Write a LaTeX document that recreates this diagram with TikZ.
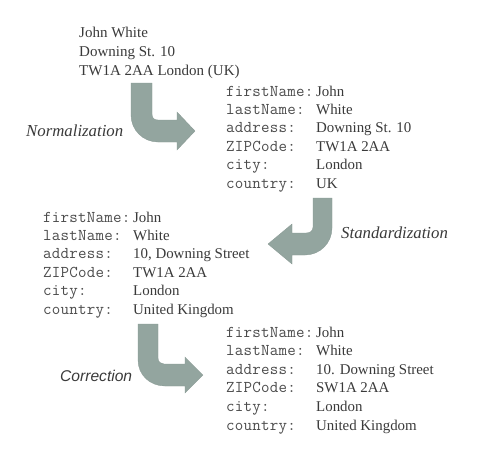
\documentclass[tikz,border=0pt]{standalone}
\usepackage{fontspec}
\setmainfont{Liberation Serif}
\setsansfont{Liberation Sans}
\newfontfamily\keyfont[LetterSpace=1.5]{Latin Modern Mono}
\definecolor{txt}{HTML}{3A3A3A}
\definecolor{keyc}{HTML}{4C4C4C}
\definecolor{arrowc}{HTML}{93A59F}
\newcommand{\kv}[2]{\makebox[90pt][l]{\fontsize{16.5pt}{18pt}\keyfont\color{keyc}#1}{\fontsize{14.9pt}{18pt}\selectfont #2}}
\tikzset{
  line/.style={anchor=base west, inner sep=0pt, text=txt, font=\fontsize{14.9pt}{18pt}\selectfont},
  addr/.style={line, font=\fontsize{15pt}{18pt}\selectfont},
  lbl/.style={anchor=base west, inner sep=0pt, text=txt, font=\fontsize{16.8pt}{18pt}\selectfont\itshape},
  lbls/.style={anchor=base west, inner sep=0pt, text=txt, font=\fontsize{15.6pt}{18pt}\sffamily\itshape},
  blockarrow/.style={fill=arrowc, draw=arrowc!92!black, line width=0.3pt}
}
\begin{document}
\begin{tikzpicture}[x=1pt,y=-1pt]
\useasboundingbox[fill=white] (0,0) rectangle (490,472);
% original address
\node[addr] (a1) at (79,37) {John White};
\node[addr] (a2) at (79,56) {Downing St. 10};
\node[addr] (a3) at (79,75) {TW1A 2AA London (UK)};
% block 1
\node[line] (b1a) at (226,96)    {\kv{firstName:}{John}};
\node[line] (b1b) at (226,114.4) {\kv{lastName:}{White}};
\node[line] (b1c) at (226,132.8) {\kv{address:}{Downing St. 10}};
\node[line] (b1d) at (226,151.2) {\kv{ZIPCode:}{TW1A 2AA}};
\node[line] (b1e) at (226,169.6) {\kv{city:}{London}};
\node[line] (b1f) at (226,188)   {\kv{country:}{UK}};
% block 2
\node[line] (b2a) at (43,222)    {\kv{firstName:}{John}};
\node[line] (b2b) at (43,240.4)  {\kv{lastName:}{White}};
\node[line] (b2c) at (43,258.8)  {\kv{address:}{10, Downing Street}};
\node[line] (b2d) at (43,277.2)  {\kv{ZIPCode:}{TW1A 2AA}};
\node[line] (b2e) at (43,295.6)  {\kv{city:}{London}};
\node[line] (b2f) at (43,314)    {\kv{country:}{United Kingdom}};
% block 3
\node[line] (b3a) at (226,337)   {\kv{firstName:}{John}};
\node[line] (b3b) at (226,355.6) {\kv{lastName:}{White}};
\node[line] (b3c) at (226,374.2) {\kv{address:}{10. Downing Street}};
\node[line] (b3d) at (226,392.8) {\kv{ZIPCode:}{SW1A 2AA}};
\node[line] (b3e) at (226,411.4) {\kv{city:}{London}};
\node[line] (b3f) at (226,430)   {\kv{country:}{United Kingdom}};
% labels
\node[lbl] (ln) at (26,136) {Normalization};
\node[lbl] (ls) at (341,238) {Standardization};
\node[lbls] (lc) at (60,381) {Correction};
% arrows
\path[blockarrow] (131,83) -- (131,115) .. controls (131,130) and (143,142) .. (158,142)
  -- (177,142) -- (177,150) -- (195,131) -- (177,112) -- (177,120) -- (158,120)
  .. controls (154,120) and (152,118) .. (152,114) -- (152,83) -- cycle;
\path[blockarrow] (332,198) -- (332,228) .. controls (332,243) and (320,255) .. (305,255)
  -- (292,255) -- (292,264) -- (268,244) -- (292,224) -- (292,233) -- (306,233)
  .. controls (310,233) and (313,231) .. (313,227) -- (313,198) -- cycle;
\path[blockarrow] (138,324) -- (138,360) .. controls (138,375) and (150,386) .. (165,386)
  -- (185,386) -- (185,393) -- (203,375) -- (185,357) -- (185,364) -- (164,364)
  .. controls (161,364) and (158,362) .. (158,358) -- (158,324) -- cycle;
\end{tikzpicture}
\end{document}
